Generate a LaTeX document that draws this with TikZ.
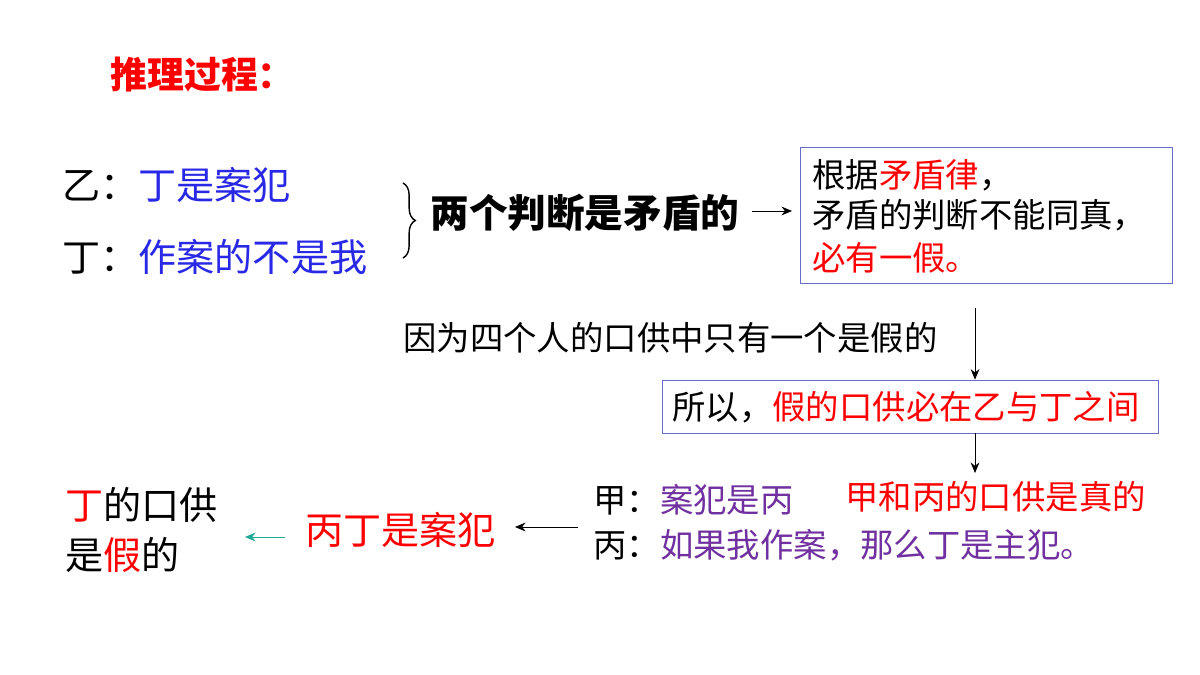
\documentclass[tikz,border=0pt]{standalone}
\usepackage{fontspec}
\setmainfont{Noto Sans CJK SC}
\usetikzlibrary{arrows.meta,decorations.pathreplacing}
\definecolor{myblue}{RGB}{40,40,230}
\definecolor{mypurple}{RGB}{112,48,160}
\definecolor{myteal}{RGB}{30,170,150}
\definecolor{boxc}{RGB}{100,110,200}
\begin{document}
\begin{tikzpicture}[x=0.02cm,y=-0.02cm,
  txt/.style={inner sep=0pt,anchor=west,font=\fontsize{19}{23}\selectfont},
  big/.style={inner sep=0pt,anchor=west,font=\fontsize{21.7}{26}\selectfont},
  arr/.style={-{Stealth[length=6pt,width=5pt]},thin}]
\useasboundingbox (0,0) rectangle (1200,675);
\fill[white] (0,0) rectangle (1200,675);
\node[big,red,font=\bfseries\fontsize{21}{25}\selectfont] (title) at (110,75) {推理过程：};
\node[big] (yi) at (62,185) {乙：\textcolor{myblue}{丁是案犯}};
\node[big] (ding) at (62,257) {丁：\textcolor{myblue}{作案的不是我}};
\draw[thick,decorate,decoration={brace,amplitude=7pt}] (403,183) -- (403,258);
\node[big,font=\bfseries\fontsize{22}{26}\selectfont] (contra) at (430,213) {两个判断是矛盾的};
\coordinate (a1) at (752,211);
\draw[boxc] (800,147) rectangle (1172,283);
\node[txt] (b1) at (812,175) {根据\textcolor{red}{矛盾律}，};
\node[txt] (b2) at (812,215) {矛盾的判断不能同真，};
\node[txt,red] (b3) at (812,258) {必有一假。};
\coordinate (a2) at (792,211);
\draw[arr] (a1) -- (a2);
\node[txt] (because) at (403,338) {因为四个人的口供中只有一个是假的};
\node[draw=boxc,inner sep=0pt,minimum height=1.06cm,minimum width=9.92cm] (box2) at (910,406.5) {};
\node[txt] (so) at (672,407) {所以，\textcolor{red}{假的口供必在乙与丁之间}};
\coordinate (v1) at (975,308);
\draw[arr] (v1) -- (box2.north -| v1);
\coordinate (v2) at (975,473);
\draw[arr] (box2.south -| v2) -- (v2);
\node[txt,red] (true) at (845,497) {甲和丙的口供是真的};
\node[txt] (jia) at (593,500) {甲：\textcolor{mypurple}{案犯是丙}};
\node[txt] (bing) at (593,545) {丙：\textcolor{mypurple}{如果我作案，那么丁是主犯。}};
\node[big,red] (res) at (305,530) {丙丁是案犯};
\coordinate (h1) at (578,527);
\coordinate (h2) at (515,527);
\draw[arr] (h1) -- (h2);
\node[big] (c1) at (65,505) {\textcolor{red}{丁}的口供};
\node[big] (c2) at (65,555) {是\textcolor{red}{假}的};
\coordinate (t1) at (285,537);
\coordinate (t2) at (245,537);
\draw[arr,myteal] (t1) -- (t2);
\end{tikzpicture}
\end{document}
